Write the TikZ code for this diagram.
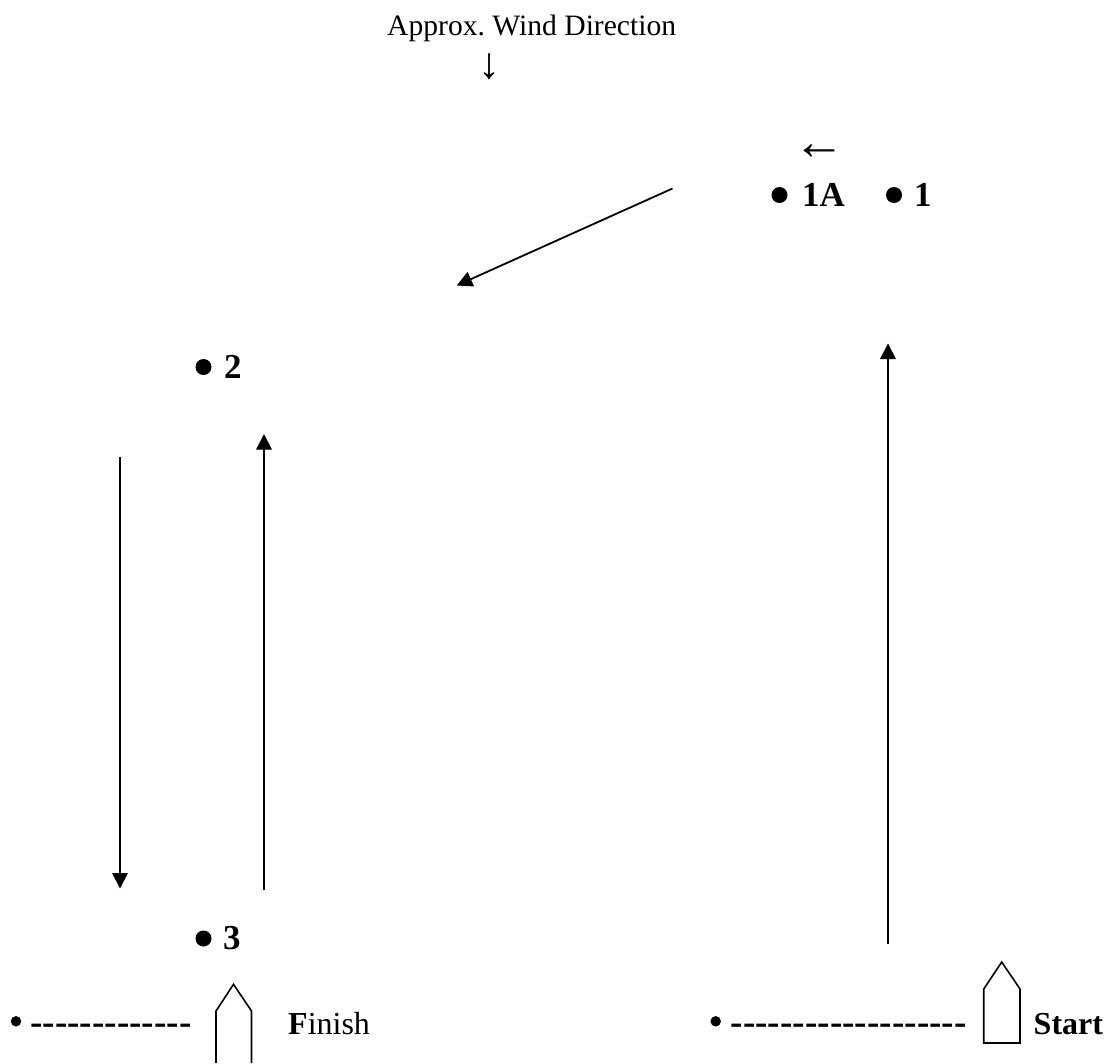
\documentclass[tikz,border=0pt]{standalone}
\usepackage{fontspec}
\setmainfont{Liberation Serif}
\usetikzlibrary{arrows.meta}
\tikzset{
 x=1pt,y=-1pt,
 lbl/.style={inner sep=0pt,anchor=base west,font=\fontsize{35}{38}\selectfont\bfseries},
 rope/.style={inner sep=0pt,anchor=base west,font=\fontsize{37.3}{40}\selectfont\bfseries},
 plain/.style={inner sep=0pt,anchor=base west,font=\fontsize{29.6}{34}\selectfont\frenchspacing},
 endlabel/.style={inner sep=0pt,anchor=base west,font=\fontsize{32}{36}\selectfont},
 marker/.style={circle,fill=black,inner sep=0pt,minimum size=16pt},
 bullet/.style={circle,fill=black,inner sep=0pt,minimum size=10.5pt},
 course/.style={line width=1.8pt,-{Triangle[length=15.5pt,width=15.5pt]}},
 boat/.style={line width=1.6pt,line join=miter}
}
\newcommand{\hy}{-{}}
\begin{document}
\begin{tikzpicture}
\useasboundingbox (0,0) rectangle (1107,1063);
\node[plain] (wind) at (387,35) {Approx. Wind Direction};
\node[inner sep=0pt,font=\fontsize{44}{48}\selectfont] (winddir) at (489,66.5) {↓};
\node[inner sep=0pt,font=\fontsize{52}{56}\selectfont] (leftdir) at (819,152) {←};
% marks
\node[marker] (m1a) at (779.5,195) {};
\node[lbl] (t1a) at (802,206) {1A};
\node[marker] (m1) at (894,195) {};
\node[lbl] (t1) at (914,206) {1};
\node[marker] (m2) at (203.5,367) {};
\node[lbl] (t2) at (224,378) {2};
\node[marker] (m3) at (203.5,938.5) {};
\node[lbl] (t3) at (223,949) {3};
% finish line
\node[bullet] (bf) at (16,1021.3) {};
\node[rope] (df) at (30,1034) {\hy\hy\hy\hy\hy\hy\hy\hy\hy\hy\hy\hy\hy};
\node[endlabel] (finish) at (288,1034) {\textbf{F}inish};
% start line
\node[bullet] (bs) at (715.7,1021.3) {};
\node[rope] (ds) at (730.5,1034) {\hy\hy\hy\hy\hy\hy\hy\hy\hy\hy\hy\hy\hy\hy\hy\hy\hy\hy\hy};
\node[endlabel] (start) at (1033.5,1034) {\textbf{Start}};
% boats
\draw[boat] (216,1063) -- (216,1011) -- (233.5,984.3) -- (251.5,1011) -- (251.5,1063);
\draw[boat] (983.7,1043) -- (983.7,989) -- (1001.7,962) -- (1020,989) -- (1020,1043) -- cycle;
% courses
\coordinate (a1s) at (888,943.5);
\coordinate (a1e) at (888,343.5);
\coordinate (a2s) at (672.5,188.5);
\coordinate (a2e) at (456.7,285.5);
\coordinate (a3s) at (264,890);
\coordinate (a3e) at (264,434);
\coordinate (a4s) at (120,456.7);
\coordinate (a4e) at (120,888.5);
\draw[course] (a1s) -- (a1e);
\draw[course] (a2s) -- (a2e);
\draw[course] (a3s) -- (a3e);
\draw[course] (a4s) -- (a4e);
\end{tikzpicture}
\end{document}
